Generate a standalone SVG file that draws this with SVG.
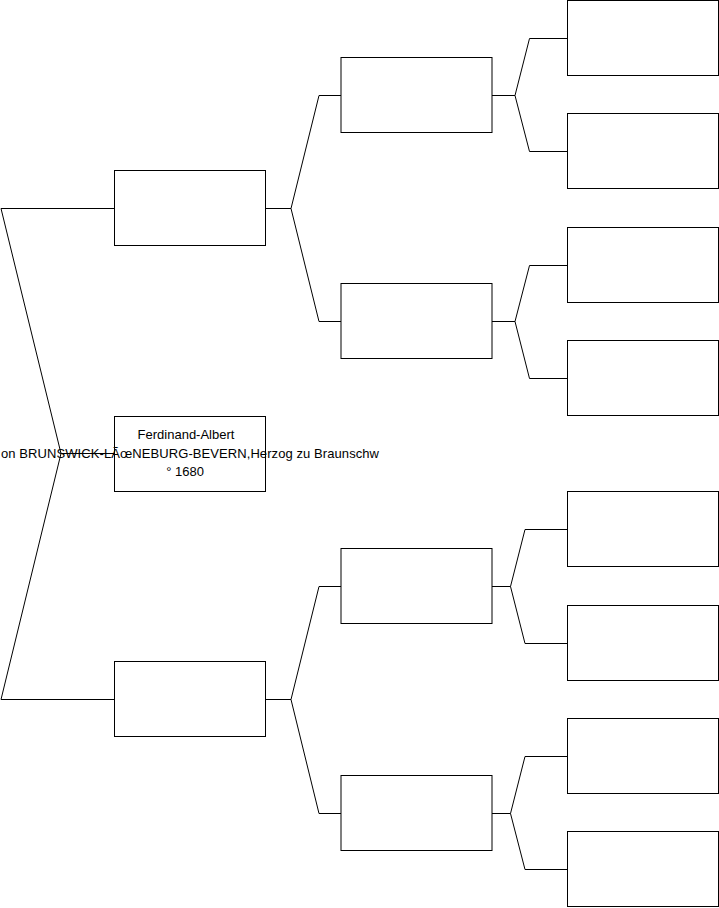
<svg xmlns="http://www.w3.org/2000/svg" width="719" height="908" viewBox="0 0 719 908">
<style>
  .box { fill: #ffffff; stroke: #000000; stroke-width: 1; }
  .con { fill: none; stroke: #000000; stroke-width: 1; }
  .t { font-family: "Liberation Sans", Arial, sans-serif; font-size: 13px; fill: #000000; }
</style>
<rect x="0" y="0" width="719" height="908" fill="#ffffff"/>
<g id="connectors">
  <path class="con" d="M1,208.5 H114.5 M1,208.5 L61,453.5 L1,699.5 M61,453.5 H114.5 M1,699.5 H114.5"/>
  <path class="con" d="M265.5,208.5 H291 L319,95.5 H341 M291,208.5 L319,321.5 H341"/>
  <path class="con" d="M265.5,699.5 H291 L319,586.5 H341 M291,699.5 L319,813.5 H341"/>
  <path class="con" d="M492,95.5 H515 L529.5,38.5 H567.5 M515,95.5 L529.5,151.5 H567.5"/>
  <path class="con" d="M492,321.5 H515 L529.5,265.5 H567.5 M515,321.5 L529.5,378.5 H567.5"/>
  <path class="con" d="M492,586.5 H510.5 L525,529.5 H567.5 M510.5,586.5 L525,643.5 H567.5"/>
  <path class="con" d="M492,813.5 H510.5 L525,756.5 H567.5 M510.5,813.5 L525,869.5 H567.5"/>
</g>
<g id="n1">
  <rect class="box" x="114.5" y="416.5" width="151" height="75"/>
  <text class="t" x="186" y="439" text-anchor="middle">Ferdinand-Albert</text>
  <text class="t" x="1" y="457.5" textLength="378" lengthAdjust="spacing">on BRUNSWICK-LÃœNEBURG-BEVERN,Herzog zu Braunschw</text>
  <text class="t" x="185" y="476" text-anchor="middle">° 1680</text>
</g>
<g id="n2"><rect class="box" x="114.5" y="170.5" width="151" height="75"/></g>
<g id="n3"><rect class="box" x="114.5" y="661.5" width="151" height="75"/></g>
<g id="n4"><rect class="box" x="341" y="57.5" width="151" height="75"/></g>
<g id="n5"><rect class="box" x="341" y="283.5" width="151" height="75"/></g>
<g id="n6"><rect class="box" x="341" y="548.5" width="151" height="75"/></g>
<g id="n7"><rect class="box" x="341" y="775.5" width="151" height="75"/></g>
<g id="n8"><rect class="box" x="567.5" y="0.5" width="151" height="75"/></g>
<g id="n9"><rect class="box" x="567.5" y="113.5" width="151" height="75"/></g>
<g id="n10"><rect class="box" x="567.5" y="227.5" width="151" height="75"/></g>
<g id="n11"><rect class="box" x="567.5" y="340.5" width="151" height="75"/></g>
<g id="n12"><rect class="box" x="567.5" y="491.5" width="151" height="75"/></g>
<g id="n13"><rect class="box" x="567.5" y="605.5" width="151" height="75"/></g>
<g id="n14"><rect class="box" x="567.5" y="718.5" width="151" height="75"/></g>
<g id="n15"><rect class="box" x="567.5" y="831.5" width="151" height="75"/></g>
</svg>
